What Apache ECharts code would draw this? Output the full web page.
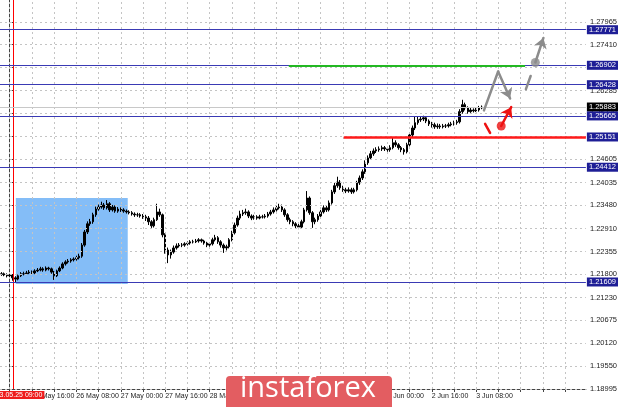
<!DOCTYPE html>
<html><head><meta charset="utf-8">
<script src="https://cdn.jsdelivr.net/npm/echarts@6/dist/echarts.min.js"></script>
<style>html,body{margin:0;padding:0;background:#fff}#c{width:620px;height:407px}</style>
</head><body><div id="c"></div>
<script>
// ---- DATA (H1 candles, first candle = bar -3) ----
const firstBar = -3;
const lastSlotBar = 207;
const opens = [1.2179,1.2181,1.2178,1.2176,1.2178,1.2171,1.2168,1.2176,1.2181,1.2181,1.2183,1.2185,1.2183,1.2188,1.2190,1.2193,1.2190,1.2195,1.2193,1.2185,1.2176,1.2188,1.2195,1.2205,1.2210,1.2212,1.2215,1.2217,1.2220,1.2224,1.2251,1.2283,1.2303,1.2308,1.2325,1.2339,1.2344,1.2349,1.2342,1.2352,1.2337,1.2344,1.2334,1.2339,1.2337,1.2334,1.2332,1.2330,1.2327,1.2325,1.2325,1.2322,1.2320,1.2317,1.2308,1.2298,1.2313,1.2332,1.2325,1.2276,1.2239,1.2227,1.2234,1.2244,1.2249,1.2251,1.2251,1.2254,1.2256,1.2259,1.2259,1.2261,1.2264,1.2261,1.2256,1.2251,1.2254,1.2264,1.2269,1.2259,1.2251,1.2244,1.2247,1.2264,1.2281,1.2300,1.2317,1.2327,1.2330,1.2332,1.2322,1.2317,1.2320,1.2317,1.2320,1.2320,1.2322,1.2327,1.2332,1.2337,1.2342,1.2344,1.2337,1.2325,1.2313,1.2308,1.2303,1.2298,1.2295,1.2308,1.2337,1.2366,1.2330,1.2308,1.2313,1.2322,1.2332,1.2342,1.2337,1.2354,1.2381,1.2396,1.2405,1.2391,1.2386,1.2383,1.2386,1.2381,1.2386,1.2403,1.2415,1.2430,1.2452,1.2464,1.2474,1.2481,1.2484,1.2486,1.2489,1.2486,1.2484,1.2489,1.2501,1.2496,1.2489,1.2484,1.2479,1.2496,1.2520,1.2537,1.2550,1.2557,1.2559,1.2562,1.2554,1.2547,1.2545,1.2540,1.2542,1.2540,1.2542,1.2542,1.2545,1.2547,1.2550,1.2552,1.2577,1.2594,1.2586,1.2577,1.2581,1.2579,1.2581,1.2586];
const closes = [1.2181,1.2178,1.2176,1.2178,1.2171,1.2168,1.2176,1.2181,1.2181,1.2183,1.2185,1.2183,1.2188,1.2190,1.2193,1.2190,1.2195,1.2193,1.2185,1.2176,1.2188,1.2195,1.2205,1.2210,1.2212,1.2215,1.2217,1.2220,1.2224,1.2251,1.2283,1.2303,1.2308,1.2325,1.2339,1.2344,1.2349,1.2342,1.2352,1.2337,1.2344,1.2334,1.2339,1.2337,1.2334,1.2332,1.2330,1.2327,1.2325,1.2325,1.2322,1.2320,1.2317,1.2308,1.2298,1.2313,1.2332,1.2325,1.2276,1.2239,1.2227,1.2234,1.2244,1.2249,1.2251,1.2251,1.2254,1.2256,1.2259,1.2259,1.2261,1.2264,1.2261,1.2256,1.2251,1.2254,1.2264,1.2269,1.2259,1.2251,1.2244,1.2247,1.2264,1.2281,1.2300,1.2317,1.2327,1.2330,1.2332,1.2322,1.2317,1.2320,1.2317,1.2320,1.2320,1.2322,1.2327,1.2332,1.2337,1.2342,1.2344,1.2337,1.2325,1.2313,1.2308,1.2303,1.2298,1.2295,1.2308,1.2337,1.2366,1.2330,1.2308,1.2313,1.2322,1.2332,1.2342,1.2337,1.2354,1.2381,1.2396,1.2405,1.2391,1.2386,1.2383,1.2386,1.2381,1.2386,1.2403,1.2415,1.2430,1.2452,1.2464,1.2474,1.2481,1.2484,1.2486,1.2489,1.2486,1.2484,1.2489,1.2501,1.2496,1.2489,1.2484,1.2479,1.2496,1.2520,1.2537,1.2550,1.2557,1.2559,1.2562,1.2554,1.2547,1.2545,1.2540,1.2542,1.2540,1.2542,1.2542,1.2545,1.2547,1.2550,1.2552,1.2577,1.2594,1.2586,1.2577,1.2581,1.2579,1.2581,1.2586,1.2588];
const lows = [1.2176,1.2175,1.2172,1.2173,1.2164,1.2159,1.2165,1.2173,1.2177,1.2178,1.2180,1.2179,1.2180,1.2185,1.2187,1.2186,1.2187,1.2189,1.2181,1.2166,1.2173,1.2185,1.2192,1.2201,1.2206,1.2208,1.2211,1.2213,1.2216,1.2220,1.2247,1.2278,1.2298,1.2303,1.2320,1.2335,1.2340,1.2337,1.2338,1.2332,1.2333,1.2330,1.2330,1.2332,1.2330,1.2328,1.2326,1.2323,1.2320,1.2320,1.2318,1.2315,1.2310,1.2300,1.2293,1.2294,1.2310,1.2320,1.2270,1.2230,1.2207,1.2218,1.2230,1.2240,1.2245,1.2246,1.2247,1.2250,1.2252,1.2255,1.2256,1.2257,1.2257,1.2252,1.2246,1.2247,1.2250,1.2260,1.2254,1.2245,1.2232,1.2238,1.2243,1.2260,1.2277,1.2296,1.2312,1.2322,1.2325,1.2317,1.2312,1.2313,1.2313,1.2314,1.2316,1.2316,1.2318,1.2323,1.2328,1.2333,1.2338,1.2332,1.2320,1.2308,1.2302,1.2297,1.2292,1.2290,1.2291,1.2304,1.2333,1.2325,1.2293,1.2302,1.2308,1.2318,1.2328,1.2332,1.2333,1.2350,1.2376,1.2391,1.2386,1.2381,1.2378,1.2379,1.2376,1.2377,1.2382,1.2398,1.2410,1.2425,1.2447,1.2459,1.2469,1.2476,1.2479,1.2481,1.2481,1.2479,1.2479,1.2485,1.2491,1.2484,1.2478,1.2472,1.2475,1.2492,1.2515,1.2532,1.2545,1.2552,1.2554,1.2549,1.2542,1.2538,1.2535,1.2535,1.2535,1.2536,1.2537,1.2538,1.2541,1.2543,1.2545,1.2548,1.2572,1.2580,1.2572,1.2574,1.2575,1.2576,1.2577,1.2583];
const highs = [1.2185,1.2184,1.2182,1.2181,1.2180,1.2175,1.2179,1.2185,1.2186,1.2188,1.2190,1.2189,1.2192,1.2195,1.2198,1.2197,1.2199,1.2198,1.2196,1.2188,1.2191,1.2199,1.2209,1.2214,1.2217,1.2219,1.2221,1.2225,1.2230,1.2256,1.2288,1.2309,1.2315,1.2330,1.2345,1.2350,1.2357,1.2354,1.2361,1.2356,1.2349,1.2348,1.2344,1.2343,1.2341,1.2338,1.2336,1.2334,1.2331,1.2330,1.2329,1.2327,1.2325,1.2322,1.2312,1.2318,1.2352,1.2340,1.2328,1.2280,1.2245,1.2240,1.2250,1.2255,1.2256,1.2256,1.2258,1.2260,1.2263,1.2264,1.2266,1.2268,1.2267,1.2264,1.2259,1.2258,1.2269,1.2276,1.2273,1.2263,1.2255,1.2252,1.2268,1.2286,1.2306,1.2323,1.2335,1.2337,1.2340,1.2336,1.2326,1.2325,1.2324,1.2325,1.2325,1.2327,1.2332,1.2337,1.2343,1.2349,1.2352,1.2350,1.2341,1.2329,1.2318,1.2312,1.2307,1.2303,1.2313,1.2342,1.2383,1.2370,1.2334,1.2318,1.2327,1.2337,1.2348,1.2347,1.2360,1.2386,1.2403,1.2418,1.2410,1.2396,1.2391,1.2392,1.2391,1.2391,1.2408,1.2421,1.2436,1.2458,1.2470,1.2481,1.2487,1.2490,1.2492,1.2494,1.2493,1.2491,1.2495,1.2515,1.2507,1.2500,1.2493,1.2488,1.2501,1.2526,1.2543,1.2564,1.2564,1.2565,1.2567,1.2566,1.2558,1.2552,1.2550,1.2548,1.2547,1.2547,1.2547,1.2550,1.2552,1.2555,1.2557,1.2583,1.2606,1.2599,1.2590,1.2587,1.2585,1.2586,1.2591,1.2592];

// axis ticks / labels
const xLabelBars = [8,24,40,56,72,88,104,120,136,152,168];
const xLabelTexts = ['23 May 16:00','26 May 08:00','27 May 00:00','27 May 16:00','28 May 08:00','29 May 00:00','29 May 16:00','30 May 08:00','2 Jun 00:00','2 Jun 16:00','3 Jun 08:00'];
const xGridBars = [0,8,16,24,32,40,48,56,64,72,80,88,96,104,112,120,128,136,144,152,160,168,176,184,192,200];
const yTickValues = [1.18995,1.19550,1.20120,1.20675,1.21230,1.21800,1.22355,1.22910,1.23480,1.24035,1.24605,1.25160,1.25730,1.26285,1.26855,1.27410,1.27965];
const yMin = 1.18995, yMax = 1.28497;

// levels
const blueLevels = [1.27771,1.26902,1.26428,1.25665,1.24412,1.21609];
const lastPrice = 1.25883;
const redLevel = 1.25151, redFromBar = 120.3;
const greenLevel = 1.26902, greenFromBar = 100.5, greenToBar = 185.6;
const separatorBar = 1.2, separatorText = '23.05.25 09:00';
const boxBars = [2.2, 42.5], boxPrices = [1.23663, 1.21561];
// forecast arrows [bar, price]
const grayLeg1 = [[170.8,1.2580],[175.9,1.2675]];
const grayLeg2 = [[175.9,1.2675],[180.2,1.2609]];
const grayDash = [[185.9,1.2632],[187.6,1.2664]];
const grayDot = [189.3,1.2697];
const grayArrow = [[189.3,1.2697],[192.2,1.2757]];
const redDash = [[171.2,1.2547],[173.0,1.2525]];
const redDot = [177.0,1.2542];
const redArrow = [[177.0,1.2542],[180.6,1.2588]];

// ---- build ----
const cats = [];
for (let b = firstBar; b <= lastSlotBar; b++) cats.push(String(b));
const candles = opens.map((o, k) => [o, closes[k], lows[k], highs[k]]);
const FONT = 'Liberation Sans';
const lvlLabel = (bg, v) => ({show:true, position:'end', distance:1, formatter:()=>v.toFixed(5),
  color:'#fff', backgroundColor:bg, padding:[1,2,0,2], fontSize:7.5, fontFamily:FONT});

const chart = echarts.init(document.getElementById('c'), null, {renderer:'canvas'});
const arrowSeries = (coords, color, withArrow) => ({
  type:'lines', coordinateSystem:'cartesian2d', xAxisIndex:1, z:6, silent:true,
  symbol: withArrow ? ['none','arrow'] : ['none','none'], symbolSize:[8,10],
  lineStyle:{color:color, width:2.5, opacity:1, cap:'round'},
  data:[{coords:coords}]
});
chart.setOption({
  animation:false,
  backgroundColor:'#ffffff',
  grid:{left:0, right:33, top:0, bottom:18},
  xAxis:[{
    type:'category', data:cats, boundaryGap:true,
    axisLine:{show:true, lineStyle:{color:'#444', width:1}},
    axisTick:{show:true, alignWithLabel:true, length:3, lineStyle:{color:'#444'},
      interval:(idx)=> (idx+firstBar)%8===0},
    axisLabel:{show:true, align:'left', margin:4, fontSize:7, fontFamily:FONT, color:'#222', hideOverlap:false,
      interval:(idx)=> xLabelBars.indexOf(idx+firstBar)>=0,
      formatter:(v)=>{const k=xLabelBars.indexOf(+v); return k>=0?xLabelTexts[k]:'';}},
    splitLine:{show:false}
  },{
    type:'value', min:firstBar-0.5, max:lastSlotBar+0.5, show:false
  }],
  yAxis:[{
    type:'value', position:'right', min:yMin, max:yMax, scale:true,
    axisLine:{show:true, lineStyle:{color:'#444'}},
    axisTick:{show:true, length:4, lineStyle:{color:'#444'}, customValues:yTickValues},
    axisLabel:{show:true, margin:4, fontSize:7.5, fontFamily:FONT, color:'#222', customValues:yTickValues,
      formatter:(v)=>Number(v).toFixed(5)},
    splitLine:{show:false}
  }],
  series:[
    { // grid lines + blue box (background)
      type:'line', xAxisIndex:1, data:[], z:1, silent:true,
      markArea:{silent:true, itemStyle:{color:'#84bdf7', opacity:1},
        data:[[{coord:[boxBars[0], boxPrices[0]]},{coord:[boxBars[1], boxPrices[1]]}]]},
      markLine:{silent:true, symbol:'none', precision:6, label:{show:false},
        lineStyle:{color:'#c4c4c4', type:[2,3], width:1},
        data: yTickValues.map(v=>({yAxis:v})).concat(xGridBars.map(b=>({xAxis:b})))}
    },
    {
      type:'candlestick', xAxisIndex:0, data:candles, z:3, barWidth:2,
      itemStyle:{color:'#000', color0:'#000', borderColor:'#000', borderColor0:'#000', borderWidth:1}
    },
    { // level lines
      type:'line', xAxisIndex:1, data:[], z:4, silent:true,
      markLine:{silent:true, symbol:'none', precision:6,
        data:[
          {xAxis:separatorBar, lineStyle:{color:'#ff0000', width:1, type:'solid'},
            label:{show:true, position:'start', distance:2, formatter:separatorText, color:'#fff',
              backgroundColor:'#ee1c1c', padding:[1,2,0,2], fontSize:7, fontFamily:FONT, offset:[6,0]}},
          {yAxis:lastPrice, lineStyle:{color:'#c8c8c8', width:1, type:'solid'}, label:lvlLabel('#000000', lastPrice)}
        ].concat(blueLevels.map(v=>({yAxis:v, lineStyle:{color:'#3a3ab4', width:1, type:'solid'}, label:lvlLabel('#1e1e96', v)})))
         .concat([
          [{coord:[redFromBar, redLevel], lineStyle:{color:'#ff1a1a', width:2.5, type:'solid'}, label:lvlLabel('#1e1e96', redLevel)},
           {coord:[lastSlotBar+0.5, redLevel]}],
          [{coord:[greenFromBar, greenLevel], lineStyle:{color:'#22b822', width:2, type:'solid'}, label:{show:false}},
           {coord:[greenToBar, greenLevel]}]
         ])}
    },
    arrowSeries(grayLeg1, '#8c8c8c', false),
    arrowSeries(grayLeg2, '#8c8c8c', true),
    arrowSeries(grayDash, '#8c8c8c', false),
    arrowSeries(grayArrow, '#8c8c8c', true),
    arrowSeries(redDash, '#ee1111', false),
    arrowSeries(redArrow, '#ee1111', true),
    {
      type:'scatter', xAxisIndex:1, z:7, silent:true, symbolSize:9,
      data:[{value:grayDot, itemStyle:{color:'#8c8c8c'}},{value:redDot, itemStyle:{color:'#ee1111'}}]
    }
  ],
  graphic:[
    {type:'rect', left:226, top:376, shape:{width:166, height:40, r:4}, style:{fill:'#e35d61'}, z:100},
    {type:'text', left:240, top:374, style:{text:'instaforex', fill:'#ffffff', font:'29px "Open Sans"'}, z:101}
  ]
});
</script></body></html>
